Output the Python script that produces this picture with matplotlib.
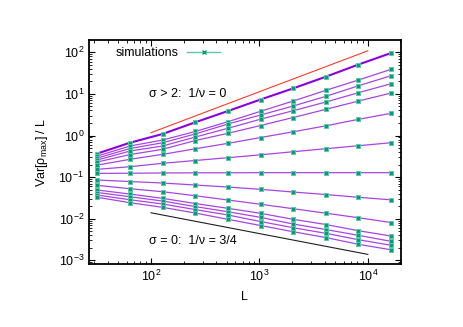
import numpy as np
import matplotlib.pyplot as plt
from matplotlib.lines import Line2D

plt.rcParams['font.family'] = ['Liberation Sans', 'DejaVu Sans']
plt.rcParams['mathtext.fontset'] = 'custom'
plt.rcParams['mathtext.rm'] = 'Liberation Sans'
plt.rcParams['mathtext.it'] = 'Liberation Sans:italic'

# system sizes
L = [32, 64, 128, 256, 512, 1024, 2048, 4096, 8192, 16384]

# Var[rho_max]/L for each sigma, top to bottom
var_curves = [
    [0.369, 0.671, 1.09, 2.08, 3.88, 7.33, 13.6, 25.9, 50.9, 96.2],
    [0.321, 0.560, 0.780, 1.25, 2.15, 3.82, 6.75, 12.2, 21.6, 39.0],
    [0.288, 0.487, 0.671, 1.09, 1.89, 3.11, 5.12, 8.75, 15.7, 27.4],
    [0.258, 0.424, 0.560, 0.920, 1.49, 2.47, 3.95, 6.39, 10.7, 17.6],
    [0.231, 0.349, 0.466, 0.758, 1.13, 1.74, 2.71, 4.26, 6.75, 10.5],
    [0.195, 0.268, 0.353, 0.479, 0.649, 0.895, 1.23, 1.71, 2.45, 3.42],
    [0.154, 0.178, 0.215, 0.251, 0.293, 0.344, 0.408, 0.482, 0.569, 0.671],
    [0.123, 0.124, 0.126, 0.127, 0.127, 0.128, 0.128, 0.128, 0.128, 0.128],
    [0.0851, 0.0784, 0.0722, 0.0646, 0.0578, 0.0509, 0.0438, 0.0382, 0.0327, 0.0285],
    [0.0635, 0.0526, 0.0446, 0.0357, 0.0282, 0.0223, 0.0174, 0.0136, 0.01057, 0.00810],
    [0.0490, 0.0392, 0.0309, 0.0232, 0.0178, 0.0135, 0.00968, 0.00726, 0.00515, 0.00384],
    [0.0427, 0.0338, 0.0266, 0.0196, 0.0147, 0.0108, 0.00746, 0.00550, 0.00399, 0.00286],
    [0.0371, 0.0286, 0.0226, 0.0166, 0.0123, 0.00857, 0.00608, 0.00446, 0.00313, 0.00230],
    [0.0327, 0.0243, 0.0188, 0.0137, 0.00968, 0.00687, 0.00487, 0.00353, 0.00243, 0.00179],
]

# guide lines: ~L^1 (1/nu = 0) and ~L^-1/2 (1/nu = 3/4)
guide_L = [100, 10000]
guide_up = [1.17, 109.0]
guide_down = [0.0139, 0.00139]

teal = '#009e73'
purple = '#a030e0'
fs = 9

fig = plt.figure(figsize=(4.63, 3.27), dpi=100)
ax = fig.add_axes([0.1922, 0.1936, 0.6732, 0.6841])

ax.plot(guide_L, guide_up, color='#ff3a2a', lw=0.8)
ax.plot(guide_L, guide_down, color='#202020', lw=0.8)

for i, vals in enumerate(var_curves):
    if i == 0:
        ax.plot(L, vals, color='#8a00e0', lw=1.5, zorder=3)
    else:
        ax.plot(L, vals, color=purple, lw=0.9, alpha=0.9, zorder=3)
    ax.plot(L, vals, ls='none', marker='s', ms=3.0, mfc=teal,
            mec='#5cc8a8', mew=0.7, zorder=4)

ax.set_xscale('log')
ax.set_yscale('log')
ax.set_xlim(26.8, 20100)
ax.set_ylim(8.3e-4, 198)

ax.tick_params(which='both', direction='in', top=True, right=True,
               labelsize=fs)
ax.tick_params(which='major', length=4)
ax.tick_params(which='minor', length=2)
for s in ax.spines.values():
    s.set_linewidth(1.3)

ax.set_xlabel('L', fontsize=fs, labelpad=5)
ax.set_ylabel(r'Var[ρ$_{\rm max}$] / L', fontsize=fs, labelpad=6)

ax.text(0.318, 0.759, 'σ > 2:  1/ν = 0', fontsize=fs, ha='center',
        va='center', transform=ax.transAxes)
ax.text(0.334, 0.1015, 'σ = 0:  1/ν = 3/4', fontsize=fs, ha='center',
        va='center', transform=ax.transAxes)

handle = Line2D([], [], color='#5cc8a8', lw=1.0, marker='x', ms=3.5,
                mec=teal, mew=1.0)
ax.legend([handle], ['simulations'], loc='upper left', frameon=False,
          markerfirst=False, fontsize=fs, handlelength=2.7,
          handletextpad=0.6, bbox_to_anchor=(0.051, 1.018))

fig.savefig('out.png', dpi=100)
